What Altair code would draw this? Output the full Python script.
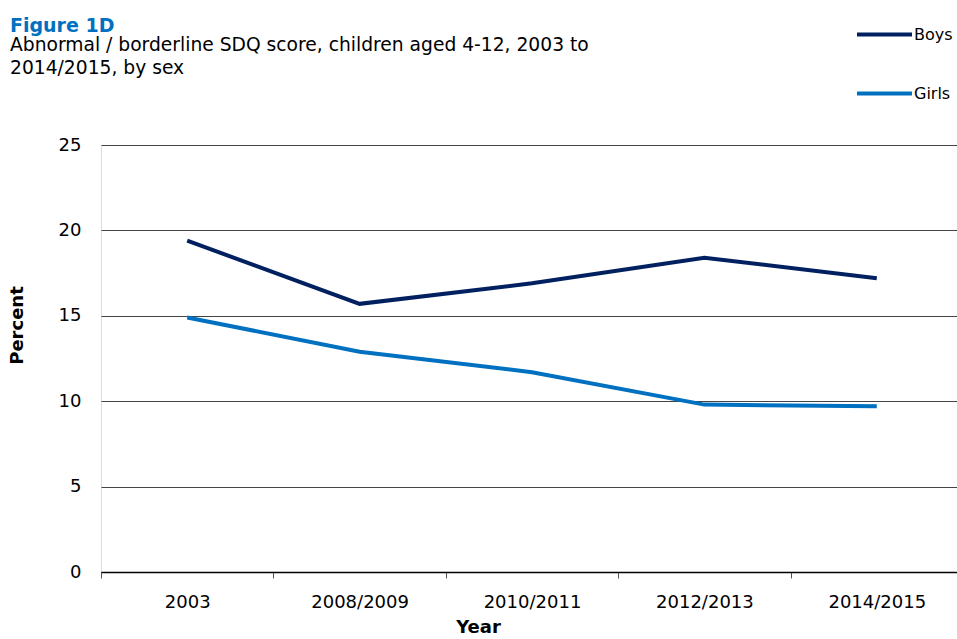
import altair as alt
import pandas as pd

years = ["2003", "2008/2009", "2010/2011", "2012/2013", "2014/2015"]
boys = [19.4, 15.7, 16.9, 18.4, 17.2]
girls = [14.9, 12.9, 11.7, 9.8, 9.7]
series = ["Boys", "Girls"]
colors = ["#002060", "#0070C0"]
y_ticks = [0, 5, 10, 15, 20, 25]

df = pd.DataFrame(
    [{"Year": y, "Sex": "Boys", "Percent": v} for y, v in zip(years, boys)]
    + [{"Year": y, "Sex": "Girls", "Percent": v} for y, v in zip(years, girls)]
)

FONT = "DejaVu Sans"

lines = (
    alt.Chart(df)
    .mark_line(strokeWidth=4, strokeCap="butt", strokeJoin="miter")
    .encode(
        x=alt.X(
            "Year:N",
            sort=years,
            scale=alt.Scale(paddingInner=0, paddingOuter=0),
            axis=alt.Axis(
                title="Year",
                titleFont=FONT,
                titleFontSize=18,
                titleFontWeight="bold",
                titleX=377,
                titleY=46,
                labelFont=FONT,
                labelFontSize=18,
                labelAngle=0,
                labelPadding=15,
                labelColor="#000",
                tickBand="extent",
                tickSize=6,
                tickColor="#555",
                tickWidth=1,
                domainColor="#000",
                domainWidth=1.5,
                grid=False,
            ),
        ),
        y=alt.Y(
            "Percent:Q",
            scale=alt.Scale(domain=[0, 25], nice=False),
            axis=alt.Axis(
                title="Percent",
                titleFont=FONT,
                titleFontSize=18,
                titleFontWeight="bold",
                titleX=-75,
                titleY=180,
                values=y_ticks,
                labelFont=FONT,
                labelFontSize=18,
                labelPadding=20,
                labelColor="#000",
                ticks=False,
                tickSize=0,
                domain=False,
                grid=True,
                gridColor="#444",
                gridWidth=1,
            ),
        ),
        color=alt.Color(
            "Sex:N",
            scale=alt.Scale(domain=series, range=colors),
            legend=alt.Legend(
                title=None,
                orient="none",
                legendX=754,
                legendY=-140,
                symbolType="stroke",
                symbolSize=3025,
                symbolStrokeWidth=4,
                labelFont=FONT,
                labelFontSize=16,
                labelOffset=0,
                rowPadding=21,
            ),
        ),
    )
)

chart = (
    lines.properties(
        width=862,
        height=427,
        autosize=alt.AutoSizeParams(type="none"),
        padding={"left": 101, "top": 145, "right": -6, "bottom": 67},
        title=alt.Title(
            text="Figure 1D",
            subtitle=[
                "Abnormal / borderline SDQ score, children aged 4-12, 2003 to",
                "2014/2015, by sex",
            ],
            anchor="start",
            frame="group",
            font=FONT,
            fontSize=19,
            fontWeight="bold",
            color="#0070C0",
            subtitleFont=FONT,
            subtitleFontSize=18.7,
            subtitleColor="#000",
            subtitleLineHeight=23,
            subtitlePadding=0,
            dx=-91,
            offset=0,
            dy=73,
        ),
    )
    .configure_view(stroke="transparent", strokeWidth=0)
    .configure(background="white")
)

chart.save("out.html", embed_options={"renderer": "svg", "actions": False})
